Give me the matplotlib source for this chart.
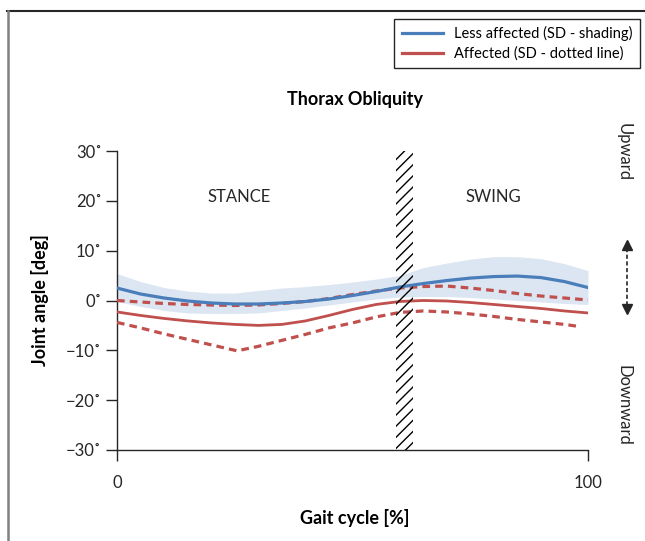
import matplotlib
matplotlib.use("Agg")
import matplotlib.pyplot as plt
from matplotlib.lines import Line2D

plt.rcParams['font.family'] = ['Lato', 'DejaVu Sans']
plt.rcParams['hatch.linewidth'] = 1.0

# ---- data ----
x = [0, 5, 10, 15, 20, 25, 30, 35, 40, 45, 50, 55, 60, 65, 70, 75, 80, 85, 90, 95, 100]
less_mean = [2.5, 1.3, 0.5, -0.1, -0.5, -0.7, -0.7, -0.5, -0.2, 0.3, 1.0, 1.8, 2.7, 3.4, 4.0, 4.5, 4.8, 4.9, 4.6, 3.8, 2.6]
less_upper = [5.4, 3.8, 2.6, 1.9, 1.5, 1.5, 2.0, 2.5, 2.8, 3.2, 3.7, 4.3, 5.0, 6.6, 7.5, 8.3, 8.8, 8.8, 8.4, 7.4, 6.0]
less_lower = [-0.2, -1.2, -2.0, -2.5, -2.6, -2.6, -2.5, -2.0, -1.5, -0.9, -0.3, 0.3, 0.7, 0.8, 0.8, 0.6, 0.3, 0.0, -0.3, -0.6, -0.8]
aff_mean = [-2.3, -3.0, -3.6, -4.1, -4.5, -4.8, -5.0, -4.8, -4.1, -3.0, -1.8, -0.8, -0.2, 0.0, -0.1, -0.4, -0.8, -1.2, -1.6, -2.1, -2.5]
aff_upper = [0.0, -0.3, -0.6, -0.8, -0.9, -1.0, -0.9, -0.6, -0.2, 0.4, 1.2, 1.9, 2.5, 2.8, 2.9, 2.5, 2.0, 1.4, 0.9, 0.5, 0.1]
x_low = [0, 5, 10, 15, 20, 25.5, 30, 35, 40, 45, 50, 55, 60, 65, 70, 75, 80, 85, 90, 95, 98]
aff_lower = [-4.4, -5.5, -6.7, -7.8, -8.9, -10.1, -9.2, -8.0, -6.8, -5.5, -4.5, -3.3, -2.4, -2.1, -2.3, -2.7, -3.2, -3.8, -4.3, -4.8, -5.2]
toe_off = (59.2, 62.8)
yticks = [-30, -20, -10, 0, 10, 20, 30]
ytick_labels = ['\u221230\u02da', '\u221220\u02da', '\u221210\u02da', '0\u02da', '10\u02da', '20\u02da', '30\u02da']
xticks = [0, 100]
xtick_labels = ['0', '100']

BLUE = '#4a7ebb'
RED = '#c0504d'
SHADE = '#dce6f2'
DARK = '#262626'

W, H = 645, 541
fig = plt.figure(figsize=(W / 100, H / 100), dpi=100)

# overlay axes in pixel coordinates for frame decorations
ov = fig.add_axes([0, 0, 1, 1], zorder=-1)
ov.set_xlim(0, W)
ov.set_ylim(H, 0)
ov.axis('off')
ov.plot([7, W], [10.5, 10.5], color=DARK, lw=1.5)
ov.plot([7.5, 7.5], [10.5, H], color='#808080', lw=1.8)

ax = fig.add_axes([117 / W, 1 - 450 / H, (588 - 117) / W, (450 - 151) / H])
ax.fill_between(x, less_lower, less_upper, color=SHADE, lw=0, zorder=1)
ax.plot(x, less_mean, color=BLUE, lw=2.3, zorder=4, label='Less affected (SD - shading)')
ax.plot(x, aff_mean, color=RED, lw=2.0, zorder=3, label='Affected (SD - dotted line)')
ax.plot(x, aff_upper, color=RED, lw=2.3, dashes=(2.4, 1.6), zorder=3)
ax.plot(x_low, aff_lower, color=RED, lw=2.3, dashes=(2.4, 1.6), zorder=3)
ax.axvspan(toe_off[0], toe_off[1], facecolor='none', edgecolor='black', hatch='///', lw=0, zorder=5)

ax.set_xlim(0, 100)
ax.set_ylim(-30, 30)
ax.set_yticks(yticks)
ax.set_yticklabels(ytick_labels)
ax.set_xticks(xticks)
ax.set_xticklabels(xtick_labels)
for s in ['top', 'right']:
    ax.spines[s].set_visible(False)
for s in ['left', 'bottom']:
    ax.spines[s].set_color(DARK)
    ax.spines[s].set_linewidth(1.0)
ax.tick_params(axis='both', direction='out', length=8, width=1, color=DARK, labelsize=12, labelcolor=DARK)
ax.tick_params(axis='x', pad=10)
ax.tick_params(axis='y', pad=3)

ax.text(26, 20.7, 'STANCE', ha='center', va='center', fontsize=12, color=DARK)
ax.text(80, 20.7, 'SWING', ha='center', va='center', fontsize=12, color=DARK)

fig.text(355 / W, 1 - 100 / H, 'Thorax Obliquity', ha='center', va='center', fontsize=13, fontweight='bold', color='black')
fig.text(40 / W, 1 - 300 / H, 'Joint angle [deg]', ha='center', va='center', rotation=90, fontsize=13, fontweight='bold', color='black')
fig.text(355 / W, 1 - 518 / H, 'Gait cycle [%]', ha='center', va='center', fontsize=13, fontweight='bold', color='black')

ov.text(624, 152, 'Upward', rotation=270, ha='center', va='center', fontsize=12, color=DARK)
ov.text(624, 405, 'Downward', rotation=270, ha='center', va='center', fontsize=12, color=DARK)
ov.plot([627, 627], [248, 306], color=DARK, lw=1.2, ls=(0, (2.5, 1.5)))
ov.plot([627], [245], marker='^', color=DARK, markersize=7, ls='none')
ov.plot([627], [309], marker='v', color=DARK, markersize=7, ls='none')

leg = fig.legend(handles=[Line2D([], [], color=BLUE, lw=2.3), Line2D([], [], color=RED, lw=2.3)],
                 labels=['Less affected (SD - shading)', 'Affected (SD - dotted line)'],
                 loc='upper right', bbox_to_anchor=(640 / W, 1 - 19 / H), fontsize=10.5,
                 fancybox=False, edgecolor=DARK, framealpha=1, handlelength=2.8,
                 borderpad=0.5, labelspacing=0.35, handletextpad=0.8, borderaxespad=0)
leg.get_frame().set_linewidth(1.0)

fig.savefig('out.png', dpi=100)
